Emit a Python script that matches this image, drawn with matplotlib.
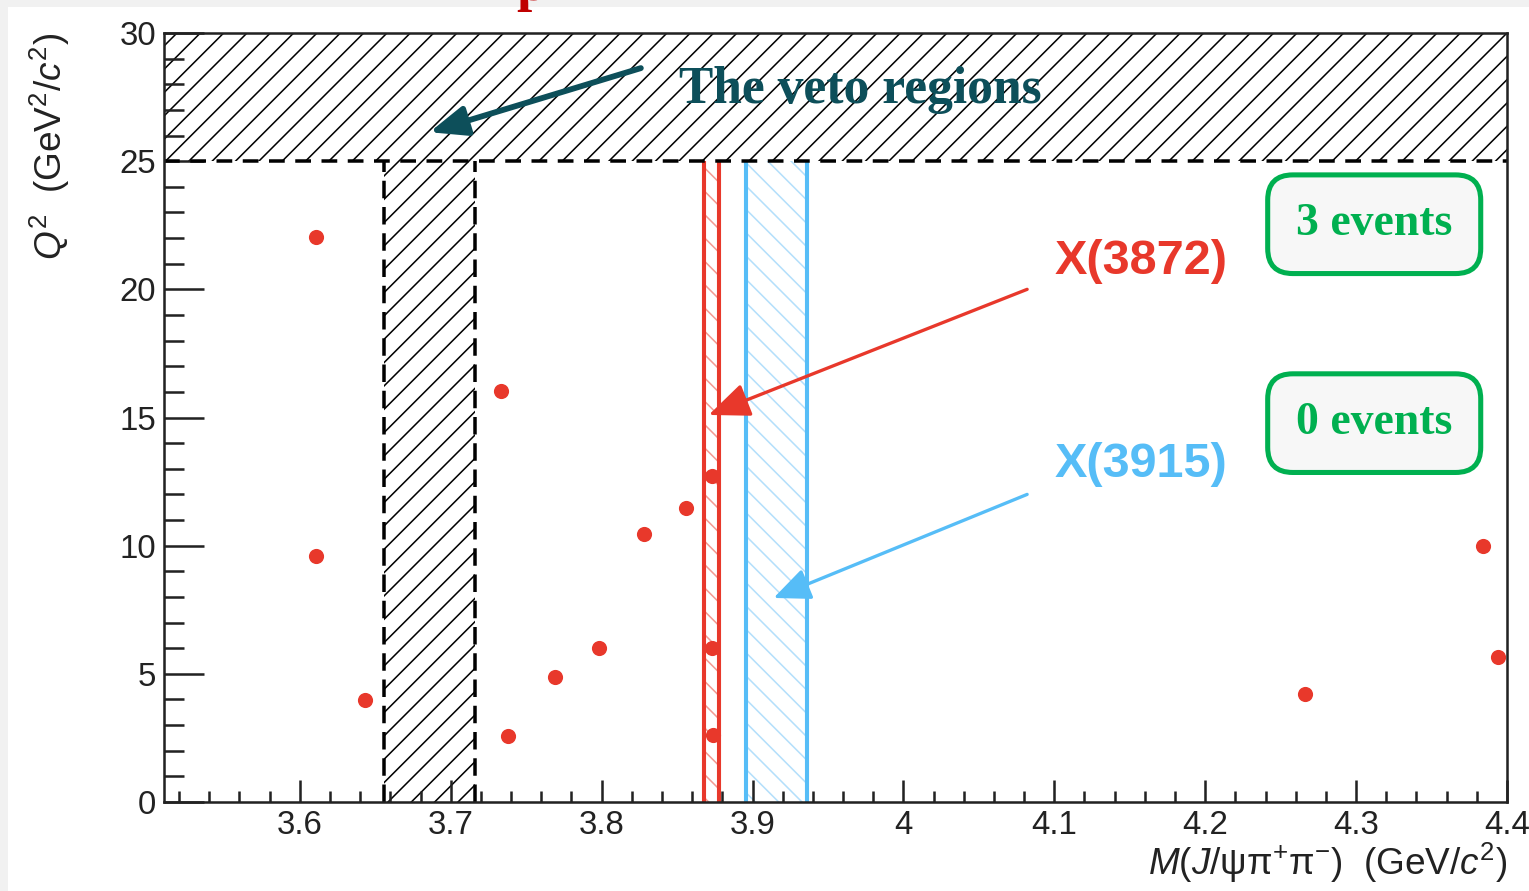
import numpy as np
import matplotlib
matplotlib.use("Agg")
import matplotlib.pyplot as plt
from matplotlib.patches import Rectangle
from matplotlib.ticker import MultipleLocator

# ---------------- candidate events ----------------
mass_gev = [3.611, 3.611, 3.643, 3.733, 3.738, 3.769, 3.798, 3.828,
            3.856, 3.873, 3.873, 3.874, 4.266, 4.384, 4.394]
q2_gev2 = [22.04, 9.59, 3.98, 16.03, 2.57, 4.88, 6.00, 10.45,
           11.47, 12.71, 6.00, 2.61, 4.21, 9.98, 5.66]

# ---------------- signal / veto windows ----------------
q2_veto_min = 25.0
psi2s_veto = (3.656, 3.716)
x3872_window = (3.868, 3.878)
x3915_window = (3.896, 3.936)
event_counts = [3, 0]

x_tick_vals = [3.6, 3.7, 3.8, 3.9, 4.0, 4.1, 4.2, 4.3, 4.4]
x_tick_labels = ["3.6", "3.7", "3.8", "3.9", "4", "4.1", "4.2", "4.3", "4.4"]
y_tick_vals = [0, 5, 10, 15, 20, 25, 30]

X_LIM = (3.51, 4.4)
Y_LIM = (0, 30)

RED = "#e8382b"
RED_LIGHT = "#f29a92"
BLUE = "#56bdf7"
BLUE_LIGHT = "#b3dffb"
TEAL = "#0d4f5a"
GREEN = "#00b050"

DPI = 140
W, H = 1529, 891

plt.rcParams["font.family"] = ["Liberation Sans", "DejaVu Sans"]
plt.rcParams["mathtext.fontset"] = "custom"
plt.rcParams["mathtext.rm"] = "Liberation Sans"
plt.rcParams["mathtext.it"] = "Liberation Sans:italic"
plt.rcParams["hatch.linewidth"] = 0.8


def px_x(p):
    return p / W


def px_y(p):
    return 1 - p / H


def draw_background(fig):
    fig.patch.set_facecolor("#f1f1f1")
    panel = Rectangle((px_x(8), 0), 1, px_y(7), transform=fig.transFigure,
                      facecolor="white", edgecolor="none", zorder=0)
    fig.add_artist(panel)
    # descender of the slide title sitting above the frame
    fig.text(px_x(531), px_y(0), "p", color="#c00000", fontsize=28,
             family="Liberation Serif", weight="bold",
             ha="center", va="baseline")


def draw_vetoes(ax):
    ax.axhspan(q2_veto_min, Y_LIM[1], facecolor="none", edgecolor="black",
               hatch="//", lw=0, zorder=1)
    ax.axhline(q2_veto_min, color="black", lw=1.8, dashes=(4.5, 3), zorder=3)

    lo, hi = psi2s_veto
    ax.add_patch(Rectangle((lo, 0), hi - lo, q2_veto_min, facecolor="none",
                           edgecolor="black", hatch="//", lw=0, zorder=1))
    for xv in psi2s_veto:
        ax.plot([xv, xv], [0, q2_veto_min], color="black", lw=1.8,
                dashes=(5, 2.5), zorder=3)


def draw_windows(ax):
    for (lo, hi), line_c, hatch_c in [(x3872_window, RED, RED_LIGHT),
                                      (x3915_window, BLUE, BLUE_LIGHT)]:
        ax.add_patch(Rectangle((lo, 0), hi - lo, q2_veto_min, facecolor="none",
                               edgecolor=hatch_c, hatch="\\\\", lw=0, zorder=1))
        for xv in (lo, hi):
            ax.plot([xv, xv], [0, q2_veto_min], color=line_c, lw=2.1,
                    solid_capstyle="butt", zorder=2)


def draw_annotations(ax):
    ax.annotate("", xy=(3.686, 26.13), xytext=(3.826, 28.63),
                arrowprops=dict(arrowstyle="-|>,head_length=1.6,head_width=0.65",
                                mutation_scale=10, lw=3.0, color=TEAL,
                                shrinkA=0, shrinkB=0), zorder=5)
    ax.text(3.851, 27.77, "The veto regions", color=TEAL, fontsize=26.5,
            family="Liberation Serif", weight="bold", va="center", ha="left",
            zorder=5)

    ax.annotate("", xy=(3.871, 15.1), xytext=(4.082, 20.0),
                arrowprops=dict(arrowstyle="-|>,head_length=1.8,head_width=0.75",
                                mutation_scale=10, lw=1.7, color=RED,
                                shrinkA=0, shrinkB=0), zorder=5)
    ax.text(4.1, 21.1, "X(3872)", color=RED, fontsize=25, weight="bold",
            va="center", ha="left", zorder=5)

    ax.annotate("", xy=(3.914, 7.96), xytext=(4.082, 12.0),
                arrowprops=dict(arrowstyle="-|>,head_length=1.6,head_width=0.7",
                                mutation_scale=10, lw=1.7, color=BLUE,
                                shrinkA=0, shrinkB=0), zorder=5)
    ax.text(4.1, 13.15, "X(3915)", color=BLUE, fontsize=25, weight="bold",
            va="center", ha="left", zorder=5)

    for n, yc in zip(event_counts, [22.54, 14.78]):
        ax.text(4.312, yc, f"{n} events", color=GREEN, fontsize=23.5,
                family="Liberation Serif", weight="bold",
                ha="center", va="center", zorder=6,
                bbox=dict(boxstyle="round,pad=0.62,rounding_size=0.55",
                          facecolor="#f7f7f7", edgecolor=GREEN, lw=2.6))


def style_axes(ax):
    ax.set_xlim(*X_LIM)
    ax.set_ylim(*Y_LIM)
    ax.set_xticks(x_tick_vals, x_tick_labels)
    ax.set_yticks(y_tick_vals)
    ax.xaxis.set_minor_locator(MultipleLocator(0.02))
    ax.yaxis.set_minor_locator(MultipleLocator(1))
    ax.tick_params(which="both", direction="in", top=False, right=False,
                   width=1.3, colors="#222222", labelsize=17)
    ax.tick_params(axis="x", which="major", length=11.5, pad=4)
    ax.tick_params(axis="x", which="minor", length=5.7)
    ax.tick_params(axis="y", which="major", length=20.5, pad=4)
    ax.tick_params(axis="y", which="minor", length=10.3)
    for sp in ax.spines.values():
        sp.set_linewidth(1.3)
        sp.set_color("#222222")
        sp.set_zorder(4)

    ax.set_xlabel(r"$M$($J$/ψπ$^{+}$π$^{-}$)  (GeV/$c^{2}$)", fontsize=19,
                  loc="right", color="#222222")
    ax.xaxis.set_label_coords(1.0, -0.05)


def main():
    fig = plt.figure(figsize=(W / DPI, H / DPI), dpi=DPI)
    draw_background(fig)
    ax = fig.add_axes([px_x(164), px_y(802), px_x(1507) - px_x(164),
                       px_y(33) - px_y(802)])
    ax.set_facecolor("white")

    draw_vetoes(ax)
    draw_windows(ax)
    ax.plot(mass_gev, q2_gev2, "o", color=RED, ms=7.8, mec="none", zorder=4,
            clip_on=False)
    draw_annotations(ax)
    style_axes(ax)

    fig.text(px_x(50), px_y(33), r"$Q^{2}$  (GeV$^{2}$/$c^{2}$)", rotation=90,
             fontsize=19, ha="center", va="top", color="#222222")

    fig.savefig("out.png", dpi=DPI, facecolor=fig.get_facecolor())


if __name__ == "__main__":
    main()
